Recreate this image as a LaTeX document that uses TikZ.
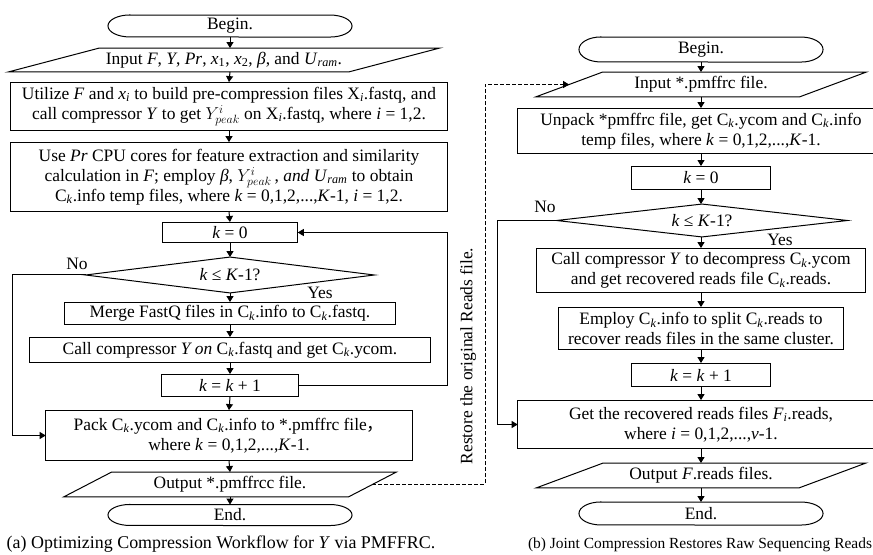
\documentclass[tikz,border=0pt]{standalone}
\usepackage{fontspec}
\setmainfont{Liberation Serif}
\newfontfamily\cjkfont{Noto Sans CJK SC}
\usetikzlibrary{arrows.meta,calc}
\newcommand\mCk{C\textsubscript{\emph{k}}}
\newcommand\mYpk{$Y^{i}_{peak}$}
\newcommand\termline[2]{\draw[lin] ($(#1.north west)+(22,0)$) -- ($(#1.north east)+(-22,0)$) arc[start angle=-90,end angle=90,x radius=22,y radius=#2] -- ($(#1.south west)+(22,0)$) arc[start angle=90,end angle=270,x radius=22,y radius=#2] -- cycle;}
\newcommand\paraline[2]{\draw[lin] ($(#1.north west)+(#2,0)$) -- (#1.north east) -- ($(#1.south east)+(-#2,0)$) -- (#1.south west) -- cycle;}
\newcommand\diaoutline[1]{\draw[lin] (#1.west) -- (#1.north) -- (#1.east) -- (#1.south) -- cycle;}
\begin{document}
\begin{tikzpicture}[x=1bp,y=-1bp,
 every node/.style={font=\fontsize{17.5}{20}\selectfont, inner sep=0pt, outer sep=0pt},
 box/.style={draw, line width=1bp, align=center},
 hid/.style={align=center},
 capt/.style={font=\fontsize{18}{20}\selectfont},
 captb/.style={font=\fontsize{15.5}{20}\selectfont},
 lin/.style={line width=1bp},
 arr/.style={line width=1bp, -{Triangle[length=6bp,width=7bp]}},
 dsh/.style={arr, dash pattern=on 4bp off 2bp}]
\useasboundingbox (0,0) rectangle (873,555);
\clip (0,0) rectangle (873,555);

% ---------------- left chart ----------------
\node[hid, minimum width=245, minimum height=22] (lbegin) at (230,26) {Begin.};
\termline{lbegin}{11}
\node[hid, minimum width=433, minimum height=24] (linput) at (224,60)
 {Input \emph{F}, \emph{Y}, \emph{Pr}, \emph{x}\textsubscript{1}, \emph{x}\textsubscript{2}, \emph{β}, and \emph{U}\textsubscript{\emph{ram}}.};
\paraline{linput}{91}
\node[box, minimum width=438, minimum height=49] (lutil) at (229,106.5)
 {Utilize \emph{F} and \emph{x}\textsubscript{\emph{i}} to build pre-compression files X\textsubscript{\emph{i}}.fastq, and\\
  call compressor \emph{Y} to get \mYpk{} on X\textsubscript{\emph{i}}.fastq, where \emph{i} = 1,2.};
\node[box, minimum width=438, minimum height=70] (lusepr) at (229,177)
 {Use \emph{Pr} CPU cores for feature extraction and similarity\\
  calculation in \emph{F}; employ \emph{β}, \mYpk\,, \emph{and U}\textsubscript{\emph{ram}} to obtain\\
  \mCk.info temp files, where \emph{k} = 0,1,2,...,\emph{K}-1, \emph{i} = 1,2.};
\node[box, minimum width=136, minimum height=21] (lk0) at (230,232.5) {\emph{k} = 0};
\node[hid, minimum width=290, minimum height=36] (ldia) at (230,275) {\emph{k} ≤ \emph{K}-1?};
\diaoutline{ldia}
\node[box, minimum width=332, minimum height=23] (lmerge) at (230,313.5)
 {Merge FastQ files in \mCk.info to \mCk.fastq.};
\node[box, minimum width=403, minimum height=26] (lcall) at (230,350)
 {Call compressor \emph{Y on} \mCk.fastq and get \mCk.ycom.};
\node[box, minimum width=138, minimum height=23] (lkk) at (230,385.5) {\emph{k} = \emph{k} + 1};
\node[box, minimum width=368, minimum height=51] (lpack) at (229,435.5)
 {Pack \mCk.ycom and \mCk.info to *.pmffrc file{\cjkfont ，}\\ where \emph{k} = 0,1,2,...,\emph{K}-1.};
\node[hid, minimum width=334, minimum height=25] (lout) at (230,484.5) {Output *.pmffrcc file.};
\paraline{lout}{48}
\node[hid, minimum width=245, minimum height=21] (lend) at (230,515) {End.};
\termline{lend}{10.5}
\node[capt] (lcap) at (221,544) {(a) Optimizing Compression Workflow for \emph{Y} via PMFFRC.};
\node (lno) at (77,264) {No};
\node (lyes) at (320,293) {Yes};

\coordinate (lnoc) at (12,0);
\coordinate (lloop) at (447,0);
\draw[arr] (lbegin.south) -- (lbegin.south |- linput.north);
\draw[arr] (lbegin.south |- linput.south) -- (lutil.north);
\draw[arr] (lutil.south) -- (lusepr.north);
\draw[arr] (lusepr.south) -- (lk0.north);
\draw[arr] (lk0.south) -- (ldia.north);
\draw[arr] (ldia.south) -- (lmerge.north);
\draw[arr] (lmerge.south) -- (lcall.north);
\draw[arr] (lcall.south) -- (lkk.north);
\draw[arr] (lkk.south) -- (lpack.north);
\draw[arr] (lpack.south) -- (lout.north);
\draw[arr] (lout.south) -- (lend.north);
\draw[arr] (lkk.east) -- (lkk.east -| lloop) |- (lk0.east);
\draw[arr] (ldia.west) -- (ldia.west -| lnoc) |- (lpack.west);

% ---------------- right chart ----------------
\node[hid, minimum width=245, minimum height=25] (rbegin) at (701,49.5) {Begin.};
\termline{rbegin}{12.5}
\node[hid, minimum width=332, minimum height=25] (rinput) at (701,84.5) {Input *.pmffrc file.};
\paraline{rinput}{67}
\node[box, minimum width=368, minimum height=46] (runpack) at (701,131)
 {Unpack *pmffrc file, get \mCk.ycom and \mCk.info\\ temp files, where \emph{k} = 0,1,2,...,\emph{K}-1.};
\node[box, minimum width=140, minimum height=24] (rk0) at (701,178) {\emph{k} = 0};
\node[hid, minimum width=292, minimum height=33] (rdia) at (702,220.5) {\emph{k} ≤ \emph{K}-1?};
\diaoutline{rdia}
\node[box, minimum width=331, minimum height=45] (rcall) at (701,270.5)
 {Call compressor \emph{Y} to decompress \mCk.ycom\\ and get recovered reads file \mCk.reads.};
\node[box, minimum width=287, minimum height=43] (remploy) at (701,328.5)
 {Employ \mCk.info to split \mCk.reads to\\ recover reads files in the same cluster.};
\node[box, minimum width=140, minimum height=24] (rkk) at (701,375) {\emph{k} = \emph{k} + 1};
\node[box, minimum width=368, minimum height=49] (rget) at (701,424.5)
 {Get the recovered reads files \emph{F}\textsubscript{\emph{i}}.reads,\\ where \emph{i} = 0,1,2,...,\emph{v}-1.};
\node[hid, minimum width=331, minimum height=25] (rout) at (701,475.5) {Output \emph{F}.reads files.};
\paraline{rout}{67}
\node[hid, minimum width=245, minimum height=23] (rend) at (701,513.5) {End.};
\termline{rend}{11.5}
\node[captb, anchor=east] (rcap) at (872,545) {(b) Joint Compression Restores Raw Sequencing Reads};
\node (rno) at (545,207) {No};
\node (ryes) at (780,240) {Yes};

\coordinate (rnoc) at (497,0);
\draw[arr] (rbegin.south) -- (rinput.north);
\draw[arr] (rinput.south) -- (runpack.north);
\draw[arr] (runpack.south) -- (rk0.north);
\draw[arr] (rk0.south) -- (rk0.south |- rdia.north);
\draw[arr] (rk0.south |- rdia.south) -- (rcall.north);
\draw[arr] (rcall.south) -- (remploy.north);
\draw[arr] (remploy.south) -- (rkk.north);
\draw[arr] (rkk.south) -- (rget.north);
\draw[arr] (rget.south) -- (rout.north);
\draw[arr] (rout.south) -- (rend.north);
\draw[arr] (rdia.west) -- (rdia.west -| rnoc) |- (rget.west);

% ---------------- dashed connector ----------------
\coordinate (dstart) at ($(lout.east)+(-24,0)$);
\coordinate (dend) at ($(rinput.west)+(33.5,0)$);
\coordinate (dx) at (485,0);
\draw[dsh] (dstart) -- (dstart -| dx) |- (dend);
\node[rotate=90] (restore) at (468,356) {Restore the original Reads file.};
\end{tikzpicture}
\end{document}
